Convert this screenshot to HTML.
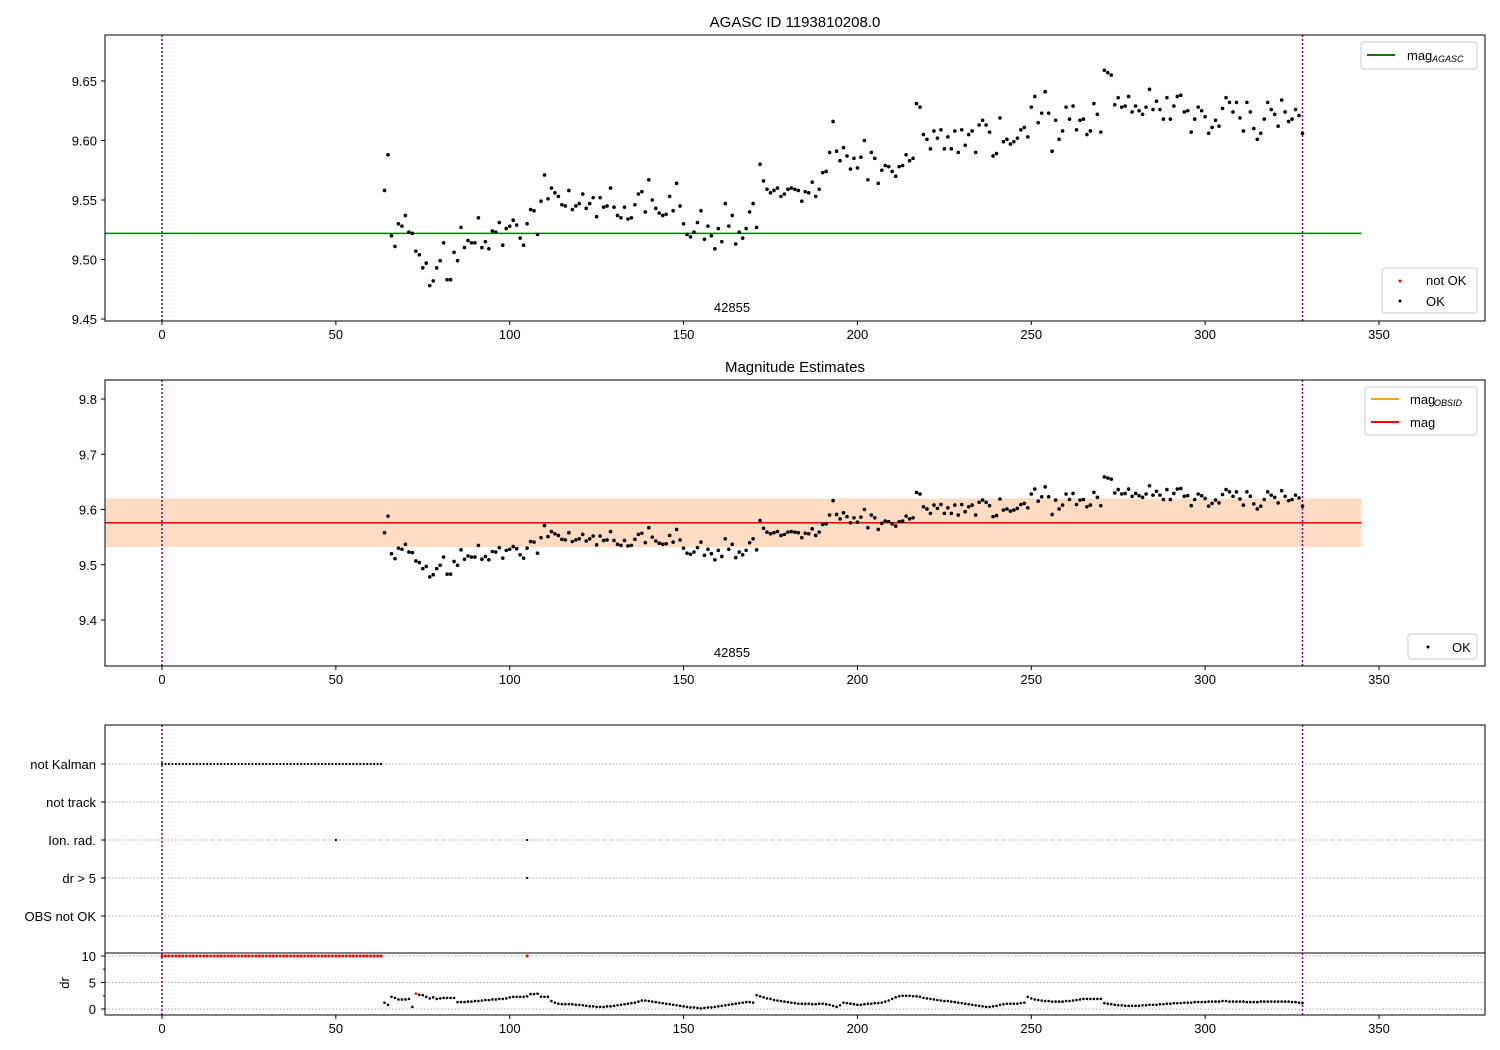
<!DOCTYPE html>
<html><head><meta charset="utf-8"><style>
body{margin:0;background:#fff}
svg{font-family:"Liberation Sans","DejaVu Sans",sans-serif;display:block}
</style></head><body>
<svg id="c" width="1500" height="1050" xmlns="http://www.w3.org/2000/svg"></svg>
<script>
const times=[];for(let t=64;t<=328;t++)times.push(t);
const mags=[9.558,9.588,9.520,9.511,9.530,9.528,9.537,9.523,9.522,9.507,9.504,9.493,9.497,9.478,9.482,9.493,9.499,9.514,9.483,9.483,9.506,9.499,9.527,9.510,9.516,9.514,9.514,9.535,9.510,9.515,9.509,9.524,9.523,9.531,9.512,9.526,9.528,9.533,9.529,9.518,9.512,9.530,9.542,9.541,9.521,9.549,9.571,9.551,9.560,9.556,9.553,9.546,9.545,9.558,9.542,9.545,9.547,9.555,9.543,9.547,9.552,9.536,9.552,9.544,9.545,9.560,9.544,9.537,9.535,9.544,9.534,9.535,9.546,9.555,9.557,9.540,9.567,9.550,9.543,9.539,9.537,9.538,9.553,9.541,9.564,9.545,9.530,9.521,9.519,9.523,9.531,9.541,9.517,9.528,9.520,9.509,9.526,9.515,9.547,9.528,9.537,9.513,9.523,9.518,9.526,9.540,9.547,9.527,9.580,9.566,9.559,9.556,9.558,9.560,9.553,9.555,9.559,9.560,9.559,9.558,9.549,9.557,9.556,9.565,9.553,9.559,9.573,9.574,9.590,9.616,9.591,9.583,9.594,9.587,9.576,9.585,9.577,9.586,9.600,9.567,9.590,9.585,9.564,9.575,9.579,9.578,9.574,9.570,9.578,9.579,9.588,9.583,9.585,9.631,9.628,9.605,9.601,9.593,9.608,9.602,9.609,9.593,9.603,9.593,9.608,9.590,9.609,9.596,9.605,9.608,9.590,9.613,9.617,9.613,9.607,9.587,9.589,9.619,9.599,9.601,9.597,9.599,9.602,9.609,9.611,9.603,9.628,9.637,9.615,9.623,9.641,9.623,9.591,9.617,9.601,9.608,9.628,9.618,9.629,9.609,9.617,9.618,9.605,9.608,9.631,9.622,9.607,9.659,9.657,9.655,9.630,9.636,9.628,9.629,9.637,9.624,9.629,9.625,9.622,9.628,9.643,9.626,9.633,9.626,9.618,9.636,9.618,9.629,9.637,9.638,9.624,9.625,9.607,9.618,9.628,9.625,9.620,9.606,9.611,9.617,9.612,9.627,9.636,9.632,9.624,9.632,9.619,9.608,9.632,9.624,9.610,9.601,9.606,9.618,9.632,9.626,9.622,9.612,9.634,9.624,9.616,9.618,9.626,9.621,9.606];
const drs=[1.2,0.8,2.3,2.1,1.8,1.8,1.8,1.9,0.4,2.9,
2.7,2.6,2.3,2.0,2.2,1.9,2.0,2.1,2.1,2.1,
2.1,1.3,1.3,1.3,1.4,1.4,1.5,1.5,1.6,1.7,
1.7,1.8,1.8,1.9,1.9,2.0,2.2,2.3,2.3,2.3,
2.3,2.4,2.8,2.8,2.9,2.3,2.3,2.3,1.5,1.2,
1.0,0.9,0.9,0.9,0.9,0.8,0.8,0.7,0.6,0.5,
0.5,0.4,0.4,0.4,0.5,0.5,0.6,0.7,0.8,0.9,
1.0,1.1,1.2,1.4,1.6,1.6,1.5,1.4,1.3,1.2,
1.1,1.0,0.9,0.8,0.7,0.6,0.5,0.4,0.3,0.3,
0.2,0.1,0.2,0.3,0.3,0.4,0.5,0.6,0.7,0.8,
0.9,1.0,1.1,1.2,1.3,1.3,1.2,2.6,2.4,2.2,
2.0,1.9,1.7,1.6,1.5,1.4,1.3,1.2,1.1,1.0,
1.0,1.0,1.0,0.9,0.9,1.0,1.0,0.9,0.8,0.6,
0.4,0.7,1.2,1.1,1.0,0.9,0.8,0.8,0.9,1.0,
1.0,1.1,1.1,1.2,1.4,1.6,1.9,2.2,2.4,2.5,
2.5,2.5,2.4,2.4,2.3,2.1,2.0,1.9,1.8,1.7,
1.6,1.5,1.5,1.4,1.3,1.2,1.1,1.0,0.9,0.8,
0.7,0.6,0.5,0.4,0.4,0.5,0.6,0.8,0.9,1.0,
1.0,1.0,1.0,1.1,1.2,2.3,2.0,1.8,1.7,1.6,
1.5,1.5,1.4,1.4,1.4,1.4,1.5,1.5,1.6,1.7,
1.8,1.9,1.9,1.9,1.9,1.9,1.9,1.1,1.0,0.9,
0.8,0.7,0.7,0.6,0.6,0.6,0.6,0.6,0.7,0.7,
0.8,0.8,0.8,0.9,0.9,1.0,1.0,1.1,1.1,1.1,
1.2,1.2,1.2,1.3,1.3,1.3,1.3,1.4,1.4,1.4,
1.4,1.5,1.5,1.4,1.4,1.4,1.4,1.4,1.3,1.3,
1.3,1.3,1.4,1.4,1.4,1.4,1.4,1.4,1.4,1.4,
1.4,1.3,1.3,1.2,1.1];
const drRedT=[73];
const notKalmanT=[];for(let t=0;t<=63;t++)notKalmanT.push(t);
const ionRadT=[50,105];
const drBigT=[105];
const flagLabels=["not Kalman","not track","Ion. rad.","dr > 5","OBS not OK"];
const xTicks=[0,50,100,150,200,250,300,350];
const y1Ticks=[9.45,9.50,9.55,9.60,9.65];
const y2Ticks=[9.4,9.5,9.6,9.7,9.8];
const drTicks=[0,5,10];
const magAgasc=9.522, magMean=9.576, magLo=9.532, magHi=9.620;

const S=document.getElementById('c');const NS="http://www.w3.org/2000/svg";
function el(tag,a,p){const e=document.createElementNS(NS,tag);for(const k in a)e.setAttribute(k,a[k]);(p||S).appendChild(e);return e;}
function tx(x,y,s,a,p){const e=el('text',Object.assign({x:x,y:y,'font-size':13,fill:'#000'},a||{}),p);e.textContent=s;return e;}
const X=t=>162+(t)*(1379-162)/350;
const Y1=v=>81+(9.65-v)*1190;
const Y2=v=>620-(v-9.4)*552.5;
const YD=v=>1009-v*5.3;
const L=105,R=1485;

function xAxis(bottom,g){xTicks.forEach(t=>{el('line',{x1:X(t),x2:X(t),y1:bottom,y2:bottom+4,stroke:'#000'},g);const e=tx(X(t),bottom+18,String(t),{'text-anchor':'middle'},g);});}
function vlines(top,bottom,g){[0,328].forEach(t=>el('line',{x1:X(t),x2:X(t),y1:top,y2:bottom,stroke:'#800080','stroke-width':1.5,'stroke-dasharray':'2,2'},g));}

// Panel 1
const g1=el('g',{});
tx(795,27,'AGASC ID 1193810208.0',{'text-anchor':'middle','font-size':15});
vlines(35,321,g1);
el('line',{x1:L,x2:X(345),y1:Y1(magAgasc),y2:Y1(magAgasc),stroke:'#008000','stroke-width':1.5},g1);
times.forEach((t,i)=>{const c=el('circle',{cx:X(t),cy:Y1(mags[i]),r:1.8,fill:'#000'},g1);});
y1Ticks.forEach(v=>{el('line',{x1:L-4,x2:L,y1:Y1(v),y2:Y1(v),stroke:'#000'},g1);tx(L-8,Y1(v)+5,v.toFixed(2),{'text-anchor':'end'},g1);});
tx(732,312,'42855',{'text-anchor':'middle'},g1);
el('rect',{x:L,y:35,width:R-L,height:286,fill:'none',stroke:'#000'},g1);
xAxis(321,g1);
el('rect',{x:1361,y:42,width:116,height:27,fill:'#fff',stroke:'#ccc',rx:3},g1);
el('line',{x1:1367,x2:1395,y1:55,y2:55,stroke:'#008000','stroke-width':2},g1);
tx(1407,60,'mag',{},g1);tx(1432,62,'AGASC',{'font-size':9,'font-style':'italic'},g1);
const lg=el('g',{},g1);
el('rect',{x:1382,y:268,width:95,height:45,fill:'#fff',stroke:'#ccc',rx:3},lg);
el('circle',{cx:1400,cy:281,r:1.5,fill:'red'},lg);tx(1426,285,'not OK',{},lg);
el('circle',{cx:1400,cy:301,r:1.5,fill:'#000'},lg);tx(1426,306,'OK',{},lg);

// Panel 2
const g2=el('g',{});
tx(795,372,'Magnitude Estimates',{'text-anchor':'middle','font-size':15},g2);
el('rect',{x:L,y:Y2(magHi),width:X(345)-L,height:Y2(magLo)-Y2(magHi),fill:'rgba(255,0,0,0.1)'},g2);
el('rect',{x:L,y:Y2(magHi),width:X(345)-L,height:Y2(magLo)-Y2(magHi),fill:'rgba(255,165,0,0.15)'},g2);
el('line',{x1:L,x2:X(345),y1:Y2(magMean),y2:Y2(magMean),stroke:'orange','stroke-width':1.5},g2);
el('line',{x1:L,x2:X(345),y1:Y2(magMean),y2:Y2(magMean),stroke:'red','stroke-width':1.5},g2);
vlines(380,666,g2);
times.forEach((t,i)=>{const c=el('circle',{cx:X(t),cy:Y2(mags[i]),r:1.8,fill:'#000'},g2);});
y2Ticks.forEach(v=>{el('line',{x1:L-4,x2:L,y1:Y2(v),y2:Y2(v),stroke:'#000'},g2);tx(L-8,Y2(v)+5,v.toFixed(1),{'text-anchor':'end'},g2);});
tx(732,657,'42855',{'text-anchor':'middle'},g2);
el('rect',{x:L,y:380,width:R-L,height:286,fill:'none',stroke:'#000'},g2);
xAxis(666,g2);
el('rect',{x:1365,y:387,width:112,height:48,fill:'#fff',stroke:'#ccc',rx:3},g2);
el('line',{x1:1371,x2:1399,y1:399,y2:399,stroke:'orange','stroke-width':2},g2);
tx(1410,404,'mag',{},g2);tx(1434,406,'OBSID',{'font-size':9,'font-style':'italic'},g2);
el('line',{x1:1371,x2:1399,y1:422,y2:422,stroke:'red','stroke-width':2},g2);
tx(1410,427,'mag',{},g2);
el('rect',{x:1408,y:634,width:69,height:25,fill:'#fff',stroke:'#ccc',rx:3},g2);
el('circle',{cx:1428,cy:647,r:1.5,fill:'#000'},g2);tx(1452,652,'OK',{},g2);

// Panel 3
const g3=el('g',{});
flagLabels.forEach((s,i)=>{const y=764+i*38;el('line',{x1:L,x2:R,y1:y,y2:y,stroke:'#aaa','stroke-dasharray':'1.5,2'},g3);el('line',{x1:L-4,x2:L,y1:y,y2:y,stroke:'#000'},g3);tx(L-9,y+5,s,{'text-anchor':'end'},g3);});
drTicks.forEach(v=>{el('line',{x1:L,x2:R,y1:YD(v),y2:YD(v),stroke:'#aaa','stroke-dasharray':'1.5,2'},g3);el('line',{x1:L-4,x2:L,y1:YD(v),y2:YD(v),stroke:'#000'},g3);tx(L-9,YD(v)+5,String(v),{'text-anchor':'end'},g3);});
[2.5,7.5].forEach(v=>el('line',{x1:L-2,x2:L,y1:YD(v),y2:YD(v),stroke:'#000'},g3));
tx(0,0,'dr',{'text-anchor':'middle',transform:'translate(69,983) rotate(-90)'},g3);
vlines(725,1015,g3);
notKalmanT.forEach(t=>el('circle',{cx:X(t),cy:764,r:1.1,fill:'#000'},g3));
ionRadT.forEach(t=>el('circle',{cx:X(t),cy:840,r:1.1,fill:'#000'},g3));
drBigT.forEach(t=>el('circle',{cx:X(t),cy:878,r:1.1,fill:'#000'},g3));
notKalmanT.concat([105]).forEach(t=>el('circle',{cx:X(t),cy:YD(10),r:1.5,fill:'red'},g3));
times.forEach((t,i)=>{if(drs[i]===undefined)return;const red=drRedT.indexOf(t)>=0;const c=el('circle',{cx:X(t),cy:YD(drs[i]),r:1.3,fill:red?'red':'#000'},g3);});
el('line',{x1:L,x2:R,y1:953,y2:953,stroke:'#000'},g3);
el('rect',{x:L,y:725,width:R-L,height:290,fill:'none',stroke:'#000'},g3);
xAxis(1015,g3);
</script>
</body></html>
